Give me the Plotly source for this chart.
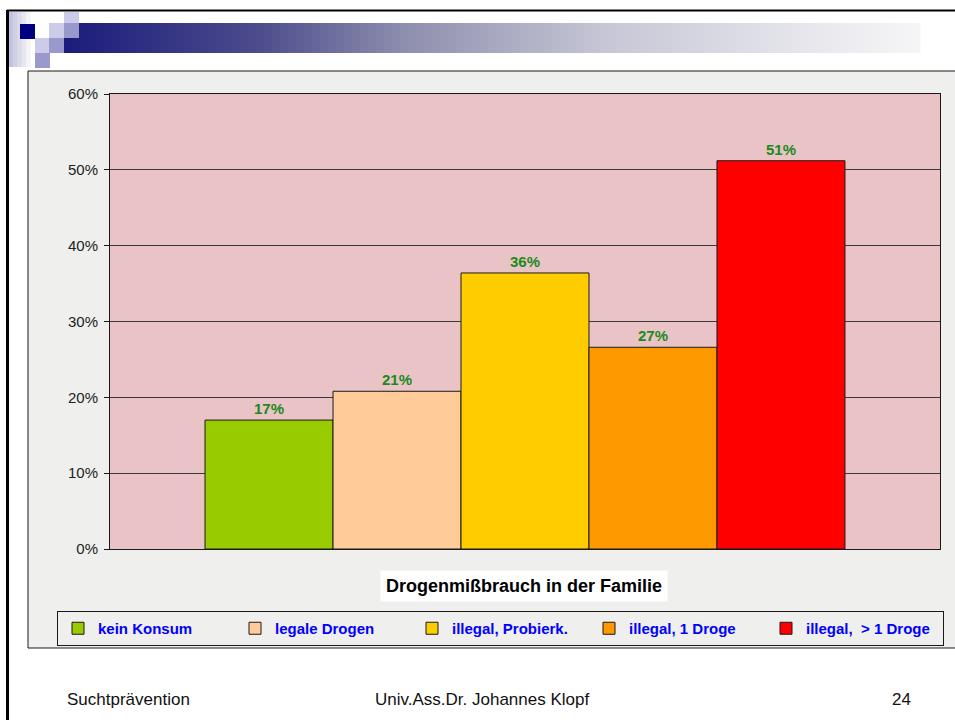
import plotly.graph_objects as go

# data
categories = ["kein Konsum", "legale Drogen", "illegal, Probierk.", "illegal, 1 Droge", "illegal,  > 1 Droge"]
shares = [0.170, 0.208, 0.364, 0.266, 0.512]
colors = ["#99cc00", "#ffcc99", "#ffcc00", "#ff9900", "#ff0000"]
group_label = "Drogenmißbrauch in der Familie"
y_ticks = [0, 0.1, 0.2, 0.3, 0.4, 0.5, 0.6]
footer_left = "Suchtprävention"
footer_mid = "Univ.Ass.Dr. Johannes Klopf"
footer_page = "24"

W, H = 955, 720
L, R, T, B = 110, 15, 94, 171
PW, PH = W - L - R, H - T - B


def px_x(p):
    return (p - L) / PW


def px_y(p):
    return (H - B - p) / PH


def rect(x0, y0, x1, y1, fill, line=None, lw=0):
    return dict(type="rect", xref="paper", yref="paper", layer="below",
                x0=px_x(x0), x1=px_x(x1), y0=px_y(y0), y1=px_y(y1),
                fillcolor=fill, line=dict(color=line or fill, width=lw))


def mix(c1, c2, t):
    a = [int(c1[i:i + 2], 16) for i in (1, 3, 5)]
    b = [int(c2[i:i + 2], 16) for i in (1, 3, 5)]
    return "#" + "".join(f"{round(a[i] + (b[i] - a[i]) * t):02x}" for i in range(3))


fig = go.Figure()
for name, val, col in zip(categories, shares, colors):
    fig.add_trace(go.Bar(
        x=[group_label], y=[val], name=name,
        marker=dict(color=col, line=dict(color="#1a1a1a", width=1)),
        texttemplate="%{y:.0%}", textposition="outside",
        textfont=dict(family="Liberation Sans, Arial", size=15, color="#1a8a1a", weight="bold"),
        cliponaxis=False, hoverinfo="skip",
    ))

shapes = []
# header gradient bar
stops = [(64, "#1c1c7c"), (250, "#4a4a8c"), (400, "#8e8eae"), (600, "#c6c6d6"), (800, "#e6e6ec"), (920, "#f6f6f8")]
step = 8
x = 64
while x < 920:
    for (xa, ca), (xb, cb) in zip(stops, stops[1:]):
        if xa <= x < xb:
            c = mix(ca, cb, (x - xa) / (xb - xa))
    shapes.append(rect(x, 23, x + step + 0.5, 53, c))
    x += step
# left fading strip
for i in range(6):
    shapes.append(rect(8 + i * 4.5, 12, 8 + (i + 1) * 4.5 + 0.5, 67, mix("#c2c2de", "#ffffff", i / 5)))
# little squares
for (x0, y0, c) in [(20, 24, "#000080"),
                    (64, 12, "#ccccea"), (49, 23, "#ccccea"), (35, 38, "#ccccea"),
                    (64, 23, "#9999cc"), (49, 38, "#9999cc"), (35, 53, "#9999cc")]:
    shapes.append(rect(x0, y0, x0 + 15, y0 + 15, c))
# chart area and plot area background
shapes.append(rect(28, 71, 975, 648, "#efefed", "#1a1a1a", 1))
shapes.append(rect(110, 94, 940, 549, "#eac3c7"))
# slide frame
shapes.append(dict(type="line", xref="paper", yref="paper", x0=px_x(7), x1=px_x(960),
                   y0=px_y(10.5), y1=px_y(10.5), line=dict(color="#000000", width=2)))
shapes.append(dict(type="line", xref="paper", yref="paper", x0=px_x(7.5), x1=px_x(7.5),
                   y0=px_y(10), y1=px_y(725), line=dict(color="#000000", width=3)))

foot_font = dict(family="Liberation Sans Narrow, Arial Narrow, Liberation Sans", size=17, color="#111111")
annotations = [
    dict(text="<b>" + group_label + "</b>", xref="paper", yref="paper", x=px_x(524), y=px_y(586),
         xanchor="center", yanchor="middle", showarrow=False, bgcolor="#ffffff", borderpad=5,
         font=dict(family="Liberation Sans, Arial", size=18, color="#000000")),
    dict(text=footer_left, xref="paper", yref="paper", x=px_x(65), y=px_y(699),
         xanchor="left", yanchor="middle", showarrow=False, font=foot_font),
    dict(text=footer_mid, xref="paper", yref="paper", x=px_x(482), y=px_y(699),
         xanchor="center", yanchor="middle", showarrow=False, font=foot_font),
    dict(text=footer_page, xref="paper", yref="paper", x=px_x(901), y=px_y(699),
         xanchor="center", yanchor="middle", showarrow=False, font=foot_font),
]

fig.update_layout(
    width=W, height=H,
    margin=dict(l=L, r=R, t=T, b=B),
    paper_bgcolor="#ffffff", plot_bgcolor="#eac3c7",
    barmode="group", bargap=0.229, bargroupgap=0,
    font=dict(family="Liberation Sans, Arial", size=15, color="#222222"),
    showlegend=True,
    legend=dict(orientation="h", xanchor="left", yanchor="top",
                x=px_x(57), y=px_y(611),
                entrywidth=132, entrywidthmode="pixels",
                bgcolor="rgba(0,0,0,0)", bordercolor="#1a1a1a", borderwidth=1,
                font=dict(family="Liberation Sans, Arial", size=15, color="#0000ff", weight="bold")),
    shapes=shapes,
    annotations=annotations,
)
fig.update_xaxes(showticklabels=False, ticks="", showline=True, mirror=True,
                 linecolor="#1a1a1a", linewidth=1, showgrid=False)
fig.update_yaxes(range=[0, 0.6], tickvals=y_ticks, tickformat=".0%",
                 showgrid=True, gridcolor="#3a3a3a", gridwidth=1,
                 ticks="outside", ticklen=5, tickcolor="#1a1a1a", ticklabelstandoff=3,
                 showline=True, mirror=True, linecolor="#1a1a1a", linewidth=1,
                 zeroline=False, tickfont=dict(size=15, color="#222222"))

fig.write_html("out.html", config={"displayModeBar": False},
               post_script="document.body.style.margin = '0px';")
